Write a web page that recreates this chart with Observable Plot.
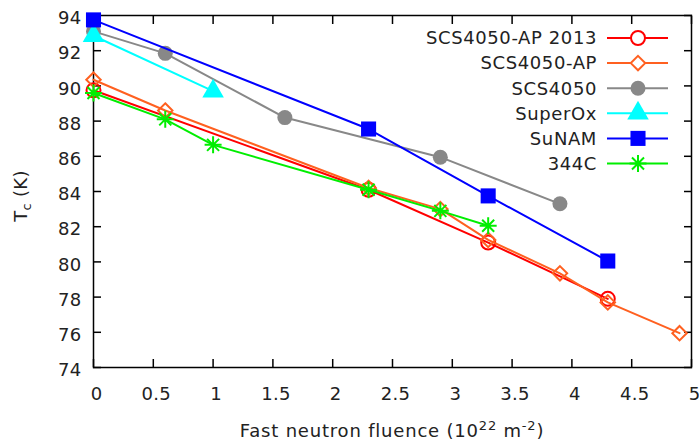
<!DOCTYPE html>
<html>
<head>
<meta charset="utf-8">
<script src="https://cdn.jsdelivr.net/npm/d3@7"></script>
<script src="https://cdn.jsdelivr.net/npm/@observablehq/plot@0.6"></script>
<style>
  html, body { margin: 0; padding: 0; background: #fff; }
  #chart svg { display: block; }
</style>
</head>
<body>
<div id="chart"></div>
<script>
// ---- data ----
const seriesNames = ["SCS4050-AP 2013", "SCS4050-AP", "SCS4050", "SuperOx", "SuNAM", "344C"];
const seriesColors = ["#ff0000", "#ff6020", "#888888", "#00ffff", "#0000ff", "#00ee00"];

const apx2013 = [0, 2.3, 3.3, 4.3];
const apy2013 = [89.75, 84.1, 81.1, 77.9];

const apx = [0, 0.6, 2.3, 2.9, 3.3, 3.9, 4.3, 4.9];
const apy = [90.35, 88.6, 84.2, 83.0, 81.25, 79.35, 77.7, 75.95];

const scsx = [0, 0.6, 1.6, 2.9, 3.9];
const scsy = [93.1, 91.85, 88.2, 85.95, 83.3];

const superOxx = [0, 1.0];
const superOxy = [92.85, 89.7];

const sunamx = [0, 2.3, 3.3, 4.3];
const sunamy = [93.75, 87.55, 83.75, 80.05];

const c344x = [0, 0.6, 1.0, 2.3, 2.9, 3.3];
const c344y = [89.6, 88.1, 86.65, 84.1, 82.9, 82.05];

const xTicks = [0, 0.5, 1, 1.5, 2, 2.5, 3, 3.5, 4, 4.5, 5];
const yTicks = [74, 76, 78, 80, 82, 84, 86, 88, 90, 92, 94];

// ---- build table ----
const xs = [apx2013, apx, scsx, superOxx, sunamx, c344x];
const ys = [apy2013, apy, scsy, superOxy, sunamy, c344y];
const data = [];
seriesNames.forEach((s, i) => xs[i].forEach((x, j) => data.push({series: s, x, y: ys[i][j]})));

// custom 8-point asterisk
const star = {
  draw(context, size) {
    const r = Math.sqrt(size / Math.PI);
    const d = r * Math.SQRT1_2;
    context.moveTo(0, -r); context.lineTo(0, r);
    context.moveTo(-r, 0); context.lineTo(r, 0);
    context.moveTo(-d, -d); context.lineTo(d, d);
    context.moveTo(-d, d); context.lineTo(d, -d);
  }
};

const markerSpec = [
  {symbol: "circle", fill: "none", r: 7},
  {symbol: "diamond2", fill: "none", r: 6.5},
  {symbol: "circle", fill: "color", r: 7.5},
  {symbol: "triangle", fill: "color", r: 8},
  {symbol: "square", fill: "color", r: 8.5},
  {symbol: star, fill: "none", r: 8.5}
];

const marks = [];
seriesNames.forEach((s, i) => {
  const d = data.filter(e => e.series === s);
  const c = seriesColors[i];
  const m = markerSpec[i];
  marks.push(Plot.line(d, {x: "x", y: "y", stroke: c, strokeWidth: 2}));
  marks.push(Plot.dot(d, {
    x: "x", y: "y", symbol: () => m.symbol, r: m.r,
    fill: m.fill === "color" ? c : "none",
    stroke: c, strokeWidth: m.fill === "color" ? 0 : 2
  }));
});

const FONT = "DejaVu Sans, Verdana, sans-serif";
const W = 699, H = 445;
const plot = Plot.plot({
  width: W,
  height: H,
  marginLeft: 93,
  marginRight: 8,
  marginTop: 15,
  marginBottom: 78,
  style: {fontFamily: FONT, fontSize: "18px", color: "#222", background: "#fff", letterSpacing: "0.3px"},
  x: {domain: [0, 5]},
  y: {domain: [74, 94]},
  symbol: {type: "identity"},
  marks: [
    // tick marks (inward)
    Plot.axisX({anchor: "bottom", ticks: xTicks, tickSize: -8, tickFormat: () => "", label: null, stroke: "#000", strokeWidth: 1.5}),
    Plot.axisX({anchor: "top", ticks: xTicks, tickSize: -8, tickFormat: () => "", label: null, stroke: "#000", strokeWidth: 1.5}),
    Plot.axisY({anchor: "left", ticks: yTicks, tickSize: -8, tickFormat: () => "", label: null, stroke: "#000", strokeWidth: 1.5}),
    Plot.axisY({anchor: "right", ticks: yTicks, tickSize: -8, tickFormat: () => "", label: null, stroke: "#000", strokeWidth: 1.5}),
    // tick labels
    Plot.axisX({anchor: "bottom", ticks: xTicks, tickSize: 0, tickPadding: 20, dx: 3, tickFormat: d => String(d), label: null}),
    Plot.axisY({anchor: "left", ticks: yTicks, tickSize: 0, tickPadding: 12, dy: 3, label: null}),
    Plot.frame({stroke: "#000", strokeWidth: 1.5}),
    ...marks
  ]
});

const svg = d3.select(plot);

// axis titles
const xt = svg.append("text")
  .attr("x", 392).attr("y", 437)
  .attr("text-anchor", "middle")
  .attr("font-size", 18).attr("letter-spacing", "0.8px").attr("fill", "#222");
xt.append("tspan").text("Fast neutron fluence (10");
xt.append("tspan").attr("font-size", 13).attr("dy", -7).text("22");
xt.append("tspan").attr("dy", 7).text(" m");
xt.append("tspan").attr("font-size", 13).attr("dy", -7).text("-2");
xt.append("tspan").attr("dy", 7).text(")");

const yt = svg.append("text")
  .attr("transform", "translate(27,196) rotate(-90)")
  .attr("text-anchor", "middle")
  .attr("font-size", 18).attr("fill", "#222");
yt.append("tspan").text("T");
yt.append("tspan").attr("font-size", 13).attr("dy", 4).text("c");
yt.append("tspan").attr("dy", -4).text(" (K)");

// legend
const legend = svg.append("g").attr("font-size", 18).attr("letter-spacing", "0.6px").attr("fill", "#222");
const symMap = {circle: d3.symbolCircle, diamond2: d3.symbolDiamond2, triangle: d3.symbolTriangle, square: d3.symbolSquare};
seriesNames.forEach((s, i) => {
  const yy = 38 + i * 25.1;
  const c = seriesColors[i];
  const m = markerSpec[i];
  legend.append("text").attr("x", 597).attr("y", yy).attr("dy", "0.35em")
    .attr("text-anchor", "end").text(s);
  legend.append("line").attr("x1", 607).attr("x2", 668).attr("y1", yy).attr("y2", yy)
    .attr("stroke", c).attr("stroke-width", 2);
  const st = typeof m.symbol === "string" ? symMap[m.symbol] : m.symbol;
  legend.append("path")
    .attr("transform", `translate(638,${yy})`)
    .attr("d", d3.symbol(st, Math.PI * m.r * m.r)())
    .attr("fill", m.fill === "color" ? c : "white")
    .attr("stroke", c).attr("stroke-width", m.fill === "color" ? 0 : 2);
});

document.getElementById("chart").appendChild(plot);
</script>
</body>
</html>
